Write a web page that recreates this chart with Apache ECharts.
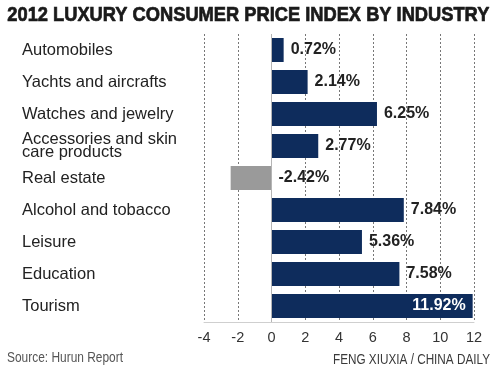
<!DOCTYPE html>
<html>
<head>
<meta charset="utf-8">
<script src="https://cdn.jsdelivr.net/npm/echarts@6/dist/echarts.min.js"></script>
<style>
html,body{margin:0;padding:0;background:#fff;}
#c{width:500px;height:371px;}
</style>
</head>
<body>
<div id="c"></div>
<script>
var categories = ["Automobiles", "Yachts and aircrafts", "Watches and jewelry", "Accessories and skin\ncare products", "Real estate", "Alcohol and tobacco", "Leisure", "Education", "Tourism"];
var values = [0.72, 2.14, 6.25, 2.77, -2.42, 7.84, 5.36, 7.58, 11.92];
var titleText = "2012 LUXURY CONSUMER PRICE INDEX BY INDUSTRY";
var sourceText = "Source: Hurun Report";
var creditText = "FENG XIUXIA / CHINA DAILY";

function measure(text, font) {
  var cv = document.createElement('canvas');
  var ctx = cv.getContext('2d');
  ctx.font = font;
  return ctx.measureText(text).width;
}
var titleFont = "bold 20px 'Liberation Sans'";
var titleScale = 482 / measure(titleText, titleFont);
var sourceFont = "14px 'Liberation Sans'";
var sourceScale = 116 / measure(sourceText, sourceFont);
var creditFont = "14px 'Liberation Sans'";
var creditScale = 157 / measure(creditText, creditFont);

var navy = '#0e2c5c';
var gray = '#9a9a9a';

var data = values.map(function (v, i) {
  var item = { value: v, itemStyle: { color: v < 0 ? gray : navy } };
  if (i === values.length - 1) {
    item.label = { position: 'insideRight', color: '#fff', distance: 7 };
  }
  return item;
});

var chart = echarts.init(document.getElementById('c'), null, { renderer: 'canvas' });
chart.setOption({
  backgroundColor: '#ffffff',
  animation: false,
  grid: { left: 204, right: 26, top: 34, bottom: 49 },
  xAxis: {
    type: 'value', min: -4, max: 12, interval: 2,
    axisLine: { show: true, lineStyle: { color: '#cfcfcf', width: 1 } },
    axisTick: { show: false },
    axisLabel: { color: '#333', fontSize: 14.5, fontFamily: 'Liberation Sans', margin: 8 },
    splitLine: { show: true, lineStyle: { color: '#777', type: [2, 2], width: 1 } }
  },
  yAxis: {
    type: 'category', data: categories, inverse: true,
    axisLine: { show: false, onZero: false },
    axisTick: { show: false },
    axisLabel: {
      align: 'left', margin: 182, color: '#222', fontSize: 16.5,
      fontFamily: 'Liberation Sans', lineHeight: 13.5
    }
  },
  series: [{
    type: 'bar', data: data, barCategoryGap: '25%',
    label: {
      show: true, position: 'right', distance: 7,
      fontSize: 16, fontWeight: 'bold', fontFamily: 'Liberation Sans', color: '#222',
      formatter: function (p) { return p.value.toFixed(2) + '%'; }
    },
    markLine: {
      silent: true, symbol: 'none', label: { show: false },
      lineStyle: { color: '#b5b5b5', type: 'solid', width: 1 },
      data: [{ xAxis: 0 }]
    }
  }],
  graphic: [
    { type: 'text', left: 7, top: 5, scaleX: titleScale, originX: 0,
      style: { text: titleText, font: titleFont, fill: '#1a1a1a', stroke: '#1a1a1a', lineWidth: 0.7 } },
    { type: 'text', x: 7, y: 351, scaleX: sourceScale, originX: 0,
      style: { text: sourceText, font: sourceFont, fill: '#555' } },
    { type: 'text', x: 490, y: 353, scaleX: creditScale, originX: 0,
      style: { text: creditText, font: creditFont, fill: '#3a3a3a', align: 'right' } }
  ]
});
</script>
</body>
</html>
